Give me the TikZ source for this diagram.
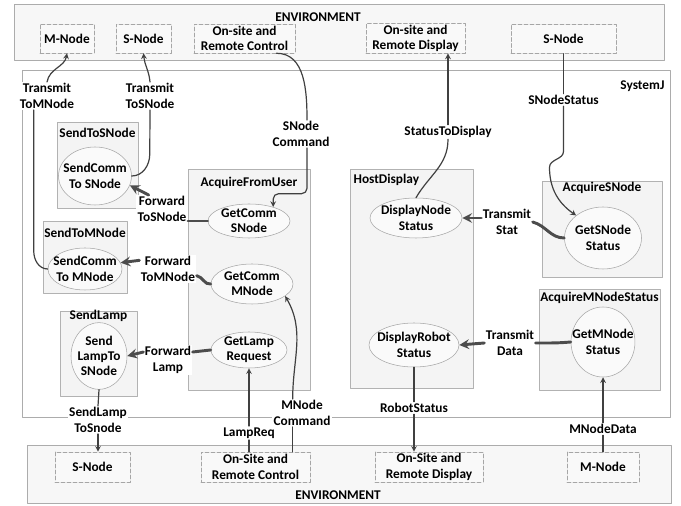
\documentclass[tikz,border=0pt]{standalone}
\usepackage{fontspec}
\setmainfont{Carlito}
\usetikzlibrary{shapes.geometric,shadows}
\begin{document}
\begin{tikzpicture}[x=0.75pt, y=0.75pt, font=\fontsize{10}{11.5}\selectfont\bfseries, line join=round, line cap=round, >=stealth,
	env/.style={draw=gray!65, fill=gray!6, inner sep=0, drop shadow={shadow xshift=1pt,shadow yshift=-1pt,opacity=.2}},
	blk/.style={draw=gray!60, fill=gray!9, inner sep=0, drop shadow={shadow xshift=1pt,shadow yshift=-1pt,opacity=.25}},
	proc/.style={ellipse, draw=gray!70, fill=gray!4, align=center, inner sep=-6pt},
	ext/.style={draw=gray!70, dash pattern=on 3pt off 1.5pt, fill=gray!5, align=center, inner sep=1pt, minimum height=21.75pt},
	ttl/.style={inner sep=1pt},
	lbl/.style={fill=white, align=center, inner sep=1pt},
	flow/.style={draw=black!75, line width=.9pt},
	fwd/.style={draw=black!70, line width=2.2pt}]
	\useasboundingbox (0,0) rectangle (681,506);
	% frames
	\node[env, minimum width=487.5pt, minimum height=42pt] (envT) at (339,474) {};
	\node[env, minimum width=483pt, minimum height=43.5pt] (envB) at (349,32) {};
	\node[env, fill=white, minimum width=486pt, minimum height=260.25pt] (sysj) at (346,262.5) {};
	\node[ttl] (tenvT) at (318,489) {ENVIRONMENT};
	\node[ttl] (tenvB) at (338,11) {ENVIRONMENT};
	\node[ttl, anchor=east] (tsysj) at (666,420) {SystemJ};
	% reactions
	\node[blk, minimum width=60.75pt, minimum height=64.5pt] (sts) at (97.5,341) {};
	\node[blk, minimum width=63pt, minimum height=54pt] (stm) at (85,249) {};
	\node[blk, minimum width=57.75pt, minimum height=63.75pt] (sl) at (98.5,152.5) {};
	\node[blk, minimum width=91.5pt, minimum height=165.75pt] (afu) at (249,226.5) {};
	\node[blk, minimum width=92.25pt, minimum height=164.25pt] (hd) at (411.5,227.5) {};
	\node[blk, minimum width=90pt, minimum height=72pt] (asn) at (602,277) {};
	\node[blk, minimum width=90.75pt, minimum height=75.75pt] (amns) at (599.5,166.5) {};
	\node[ttl] (tsts) at (97.5,373) {SendToSNode};
	\node[ttl] (tstm) at (85,273) {SendToMNode};
	\node[ttl] (tsl) at (98.5,190) {SendLamp};
	\node[ttl] (tafu) at (249,323) {AcquireFromUser};
	\node[ttl, anchor=west] (thd) at (352,326) {HostDisplay};
	\node[ttl] (tasn) at (602,318) {AcquireSNode};
	\node[ttl] (tamns) at (599.5,208) {AcquireMNodeStatus};
	\node[proc, minimum width=54.75pt, minimum height=43.5pt] (sctsn) at (95,330) {SendComm\\To SNode};
	\node[proc, minimum width=55.5pt, minimum height=31.5pt] (sctmn) at (85,237) {SendComm\\To MNode};
	\node[proc, minimum width=61.5pt, minimum height=25.5pt] (gcsn) at (249,285) {GetComm\\SNode};
	\node[proc, minimum width=61.5pt, minimum height=30pt] (gcmn) at (252,222) {GetComm\\MNode};
	\node[proc, minimum width=57pt, minimum height=27pt] (glr) at (249,156) {GetLamp\\Request};
	\node[proc, minimum width=42pt, minimum height=50pt] (sltsn) at (99,150) {Send\\LampTo\\SNode};
	\node[proc, minimum width=69pt, minimum height=30pt] (dns) at (416,288) {DisplayNode\\Status};
	\node[proc, minimum width=57.75pt, minimum height=46.5pt] (gsns) at (603,268) {GetSNode\\Status};
	\node[proc, minimum width=67.5pt, minimum height=33pt] (drs) at (414,161) {DisplayRobot\\Status};
	\node[proc, minimum width=45pt, minimum height=52.5pt] (gmns) at (603,164) {GetMNode\\Status};
	% environment
	\node[ext, minimum width=40.5pt] (mnT) at (67,467.5) {M-Node};
	\node[ext, minimum width=41.25pt] (snT) at (143.5,467.5) {S-Node};
	\node[ext, minimum width=75.75pt] (orcT) at (244.5,467.5) {On-site and\\Remote Control};
	\node[ext, minimum width=74.25pt] (ordT) at (415.5,467.5) {On-site and\\Remote Display};
	\node[ext, minimum width=78.75pt] (snT2) at (563.5,467) {S-Node};
	\node[ext, minimum width=56.25pt, minimum height=22.5pt] (snB) at (92.5,39) {S-Node};
	\node[ext, minimum width=81.75pt, minimum height=22.5pt] (orcB) at (255.5,39) {On-Site and\\Remote Control};
	\node[ext, minimum width=81pt, minimum height=22.5pt] (ordB) at (429,39) {On-Site and\\Remote Display};
	\node[ext, minimum width=54pt, minimum height=22.5pt] (mnB) at (603,39) {M-Node};
	% signals
	\node[lbl] (tmn) at (47,410) {Transmit\\ToMNode};
	\node[lbl] (tsn) at (150,410) {Transmit\\ToSNode};
	\node[lbl] (snc) at (301,372) {SNode\\Command};
	\node[lbl] (std) at (448,374) {StatusToDisplay};
	\node[lbl] (sns) at (563.5,406) {SNodeStatus};
	\node[lbl] (fts) at (162,297) {Forward\\ToSNode};
	\node[lbl] (ftm) at (168,237) {Forward\\ToMNode};
	\node[lbl] (fl) at (168,146) {Forward\\Lamp};
	\node[lbl] (ts) at (507,284) {Transmit\\Stat};
	\node[lbl] (td) at (510,163) {Transmit\\Data};
	\node[lbl] (sltl) at (98,86) {SendLamp\\ToSnode};
	\node[lbl] (lrq) at (249,73) {LampReq};
	\node[lbl] (mnc) at (302,93) {MNode\\Command};
	\node[lbl] (rs) at (414,98) {RobotStatus};
	\node[lbl] (mnd) at (603,77) {MNodeData};
	% top connectors
	\draw[flow] (sctmn.west) to[out=180,in=-90] ++(-14,18) -- ([xshift=-10pt]tmn.south);
	\draw[flow,->] (tmn.north) to[out=80,in=-100] (mnT.south);
	\draw[flow] (sctsn.east) to[out=0,in=-90] ++(18,22) -- (tsn.south);
	\draw[flow,->] (tsn.north) to[out=95,in=-85] (snT.south);
	\draw[flow] ([xshift=24pt]orcT.south) to[out=0,in=90] ([xshift=4.5pt]snc.north);
	\draw[flow,->,rounded corners=4pt] ([xshift=4.5pt]snc.south) |- ([yshift=10pt]gcsn.30) -- (gcsn.30);
	\draw[flow,->] (std.north) -- (std.north |- ordT.south);
	\draw[flow] (std.south) to[out=-90,in=60] (dns.north);
	\draw[flow] (snT2.south) -- (sns.north);
	\draw[flow,->] (sns.south) -- ++(0,-45) to[out=-90,in=90] ++(-14,-16) to[out=-90,in=145] (gsns.140);
	% forwarded signals
	\draw[fwd] (gcsn.west) -- (gcsn.west -| fts.east);
	\draw[fwd,->] ([xshift=-10pt]fts.north) -- (sctsn.-15);
	\draw[fwd] (gcmn.west) to[out=190,in=-10] ([yshift=-5pt]ftm.east);
	\draw[fwd,->] ([yshift=-4pt]ftm.north west) -- (sctmn.10);
	\draw[fwd] (glr.west) -- ([yshift=6pt]fl.east);
	\draw[fwd,->] ([yshift=6pt]fl.west) -- (sltsn.east);
	\draw[fwd] (gsns.west) to[out=180,in=-15] (ts.east);
	\draw[fwd,->] (ts.west |- dns.east) -- (dns.east);
	\draw[fwd] (gmns.west) to[out=185,in=0] (td.east);
	\draw[fwd,->] (td.west) -- (drs.east);
	% bottom connectors
	\draw[flow] (sltsn.south) -- (sltl.north);
	\draw[flow,->] (sltl.south) -- (sltl.south |- snB.north);
	\draw[flow] (lrq.south |- orcB.north) -- (lrq.south);
	\draw[flow,->] (lrq.north) -- (glr.south);
	\draw[flow] ([xshift=-7pt]mnc.south |- orcB.north) -- ([xshift=-7pt]mnc.south);
	\draw[flow,->] ([xshift=-7pt]mnc.north) to[out=90,in=-60] (gcmn.-20);
	\draw[flow] (drs.south) -- (rs.north);
	\draw[flow,->] (rs.south) -- (rs.south |- ordB.north);
	\draw[flow] (mnB.north) -- (mnd.south);
	\draw[flow,->] (mnd.north) -- (gmns.south);
\end{tikzpicture}
\end{document}
